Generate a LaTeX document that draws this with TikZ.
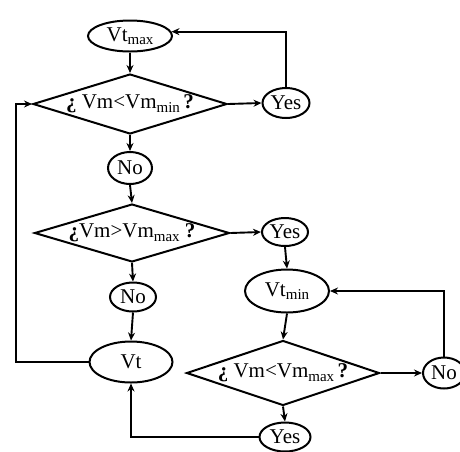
\documentclass[tikz,border=0pt]{standalone}
\usepackage{fontspec}
\setmainfont{Liberation Serif}
\usetikzlibrary{shapes.geometric,arrows.meta}
\newcommand{\sbs}[1]{\raisebox{-0.35ex}{\fontsize{15}{15}\selectfont #1}}
\begin{document}
\begin{tikzpicture}[x=1pt,y=-1pt,
  every node/.style={font=\fontsize{21}{24}\selectfont},
  oval/.style={draw,ellipse,line width=2pt,inner sep=0pt},
  dia/.style={draw,diamond,aspect=3.2,line width=2pt,inner sep=0pt},
  conn/.style={line width=1.9pt},
  arr/.style={conn,-{Stealth[length=8pt,width=7pt]}}]
\useasboundingbox (0,0) rectangle (460,451);
\node[oval,minimum width=84pt,minimum height=31pt] (vtmax) at (130,36) {Vt\sbs{max}};
\node[dia,minimum width=194pt,minimum height=60pt] (d1) at (130,104) {\textbf{¿} Vm<Vm\sbs{min}\,\textbf{?}};
\node[oval,minimum width=47pt,minimum height=30pt] (yes1) at (286,103) {Yes};
\node[oval,minimum width=44pt,minimum height=32pt] (no1) at (130,168) {No};
\node[dia,minimum width=195pt,minimum height=56pt] (d2) at (132,233) {\textbf{¿}Vm>Vm\sbs{max} \textbf{?}};
\node[oval,minimum width=46pt,minimum height=28pt] (yes2) at (285,232) {Yes};
\node[oval,minimum width=46pt,minimum height=29pt] (no2) at (133,297) {No};
\node[oval,minimum width=84pt,minimum height=43pt] (vtmin) at (287,291) {Vt\sbs{min}};
\node[oval,minimum width=83pt,minimum height=41pt] (vt) at (131,362) {Vt};
\node[dia,minimum width=193pt,minimum height=65pt] (d3) at (283,373) {\textbf{¿} Vm<Vm\sbs{max}\,\textbf{?}};
\node[oval,minimum width=42pt,minimum height=31pt] (no3) at (444,373) {No};
\node[oval,minimum width=51pt,minimum height=29pt] (yes3) at (285,437) {Yes};
\coordinate (lp) at (16,362);
\draw[arr] (vtmax.south) -- (d1.north);
\draw[arr] (d1.east) -- (yes1.west);
\draw[arr] (yes1.north) |- (vtmax.6);
\draw[arr] (d1.south) -- (no1.north);
\draw[arr] (no1.south) -- (d2.north);
\draw[arr] (d2.east) -- (yes2.west);
\draw[arr] (d2.south) -- (no2.north);
\draw[arr] (no2.south) -- (vt.north);
\draw[arr] (yes2.south) -- (vtmin.north);
\draw[arr] (vtmin.south) -- (d3.north);
\draw[arr] (d3.east) -- (no3.west);
\draw[arr] (no3.north) |- (vtmin.east);
\draw[arr] (d3.south) -- (yes3.north);
\draw[arr] (yes3.west) -| (vt.south);
\draw[arr] (vt.west) -- (lp) |- (d1.west);
\end{tikzpicture}
\end{document}
